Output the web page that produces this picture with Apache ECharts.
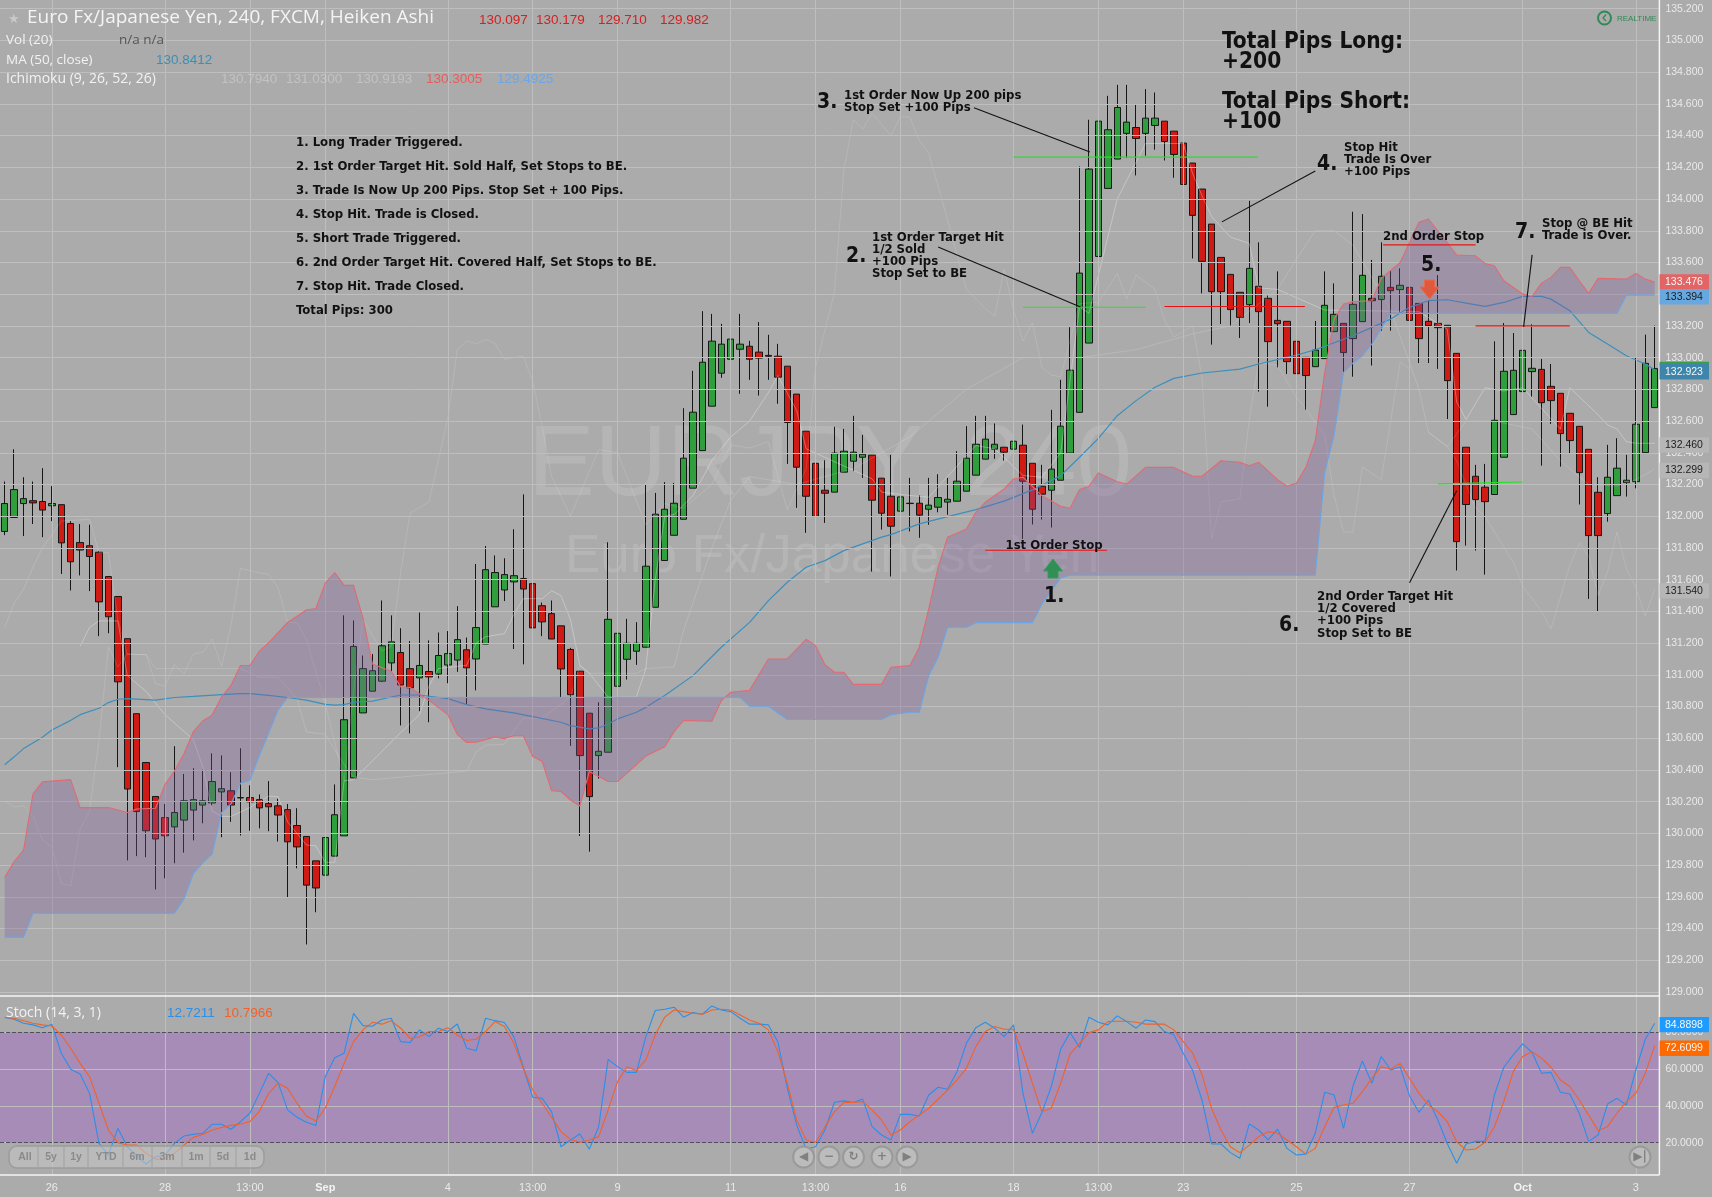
<!DOCTYPE html>
<html><head><meta charset="utf-8">
<style>html,body{margin:0;padding:0;background:#ababab;overflow:hidden}#c{width:1712px;height:1197px}</style>
<script src="https://cdn.jsdelivr.net/npm/echarts@6/dist/echarts.min.js"></script>
</head><body><div id="c"></div>
<script>
const opens=[131.904,131.992,132.080,132.098,132.093,132.066,132.073,131.954,131.834,131.814,
131.773,131.620,131.494,131.228,130.755,130.447,130.233,130.100,130.041,130.084,
130.147,130.179,130.192,130.262,130.269,130.224,130.226,130.213,130.188,130.174,
130.150,130.050,129.981,129.827,129.737,129.857,129.985,130.350,130.760,130.897,
130.960,131.075,131.141,131.039,130.981,131.021,131.005,131.062,131.093,131.158,
131.100,131.194,131.429,131.535,131.586,131.607,131.575,131.436,131.386,131.309,
131.160,131.023,130.758,130.491,130.512,130.928,131.098,131.149,131.174,131.426,
131.721,131.880,131.981,132.177,132.414,132.694,132.902,132.990,133.053,133.072,
133.035,133.014,133.009,132.946,132.770,132.536,132.334,132.164,132.152,132.278,
132.347,132.372,132.385,132.240,132.126,132.032,132.082,132.082,132.044,132.057,
132.089,132.095,132.158,132.259,132.360,132.423,132.435,132.423,132.448,132.334,
132.189,132.164,132.227,132.398,132.655,133.092,133.638,134.067,134.252,134.414,
134.451,134.414,134.464,134.491,134.428,134.353,134.227,134.063,133.842,133.632,
133.525,133.412,133.334,133.450,133.374,133.235,133.229,133.103,133.002,132.943,
132.994,133.164,133.216,133.120,133.227,133.374,133.366,133.443,133.429,133.443,
133.342,133.229,133.216,133.204,133.027,132.435,132.252,132.183,132.137,132.372,
132.641,132.786,132.912,132.926,132.819,132.775,132.649,132.567,132.422,132.151,
132.017,132.130,132.212,132.218,132.401,132.685];
const closes=[132.080,132.168,132.111,132.084,132.039,132.080,131.832,131.713,131.787,131.746,
131.460,131.366,130.956,130.280,130.138,130.017,129.965,129.985,130.132,130.206,
130.213,130.206,130.327,130.282,130.179,130.226,130.199,130.161,130.168,130.116,
129.947,129.915,129.674,129.656,129.974,130.118,130.717,131.179,131.039,131.026,
131.183,131.208,130.936,130.918,131.059,130.987,131.122,131.134,131.222,131.044,
131.298,131.663,131.645,131.632,131.625,131.541,131.296,131.334,131.226,131.037,
130.875,130.491,130.232,130.518,131.350,131.262,131.199,131.199,131.685,132.013,
132.044,132.082,132.366,132.656,132.971,133.104,133.085,133.117,133.085,132.990,
132.997,133.009,132.877,132.591,132.309,132.126,131.999,132.145,132.398,132.410,
132.404,132.391,132.101,132.019,131.937,132.122,132.080,132.007,132.070,132.118,
132.107,132.221,132.366,132.454,132.486,132.454,132.404,132.473,132.221,132.044,
132.139,132.297,132.568,132.921,133.533,134.189,134.491,134.437,134.577,134.485,
134.382,134.510,134.510,134.363,134.281,134.092,133.897,133.607,133.416,133.416,
133.303,133.254,133.563,133.290,133.101,133.214,132.975,132.899,132.887,133.048,
133.330,133.273,133.032,133.336,133.519,133.359,133.513,133.422,133.456,133.235,
133.120,133.202,133.189,132.855,131.840,132.074,132.105,132.092,132.605,132.914,
132.920,133.046,132.933,132.716,132.729,132.521,132.477,132.275,131.878,131.878,
132.246,132.303,132.227,132.580,132.964,132.931];
const lows=[131.881,131.990,131.875,131.951,131.868,131.969,131.636,131.532,131.627,131.528,
131.244,131.262,130.418,129.830,129.857,129.850,129.647,129.717,129.812,129.879,
129.956,130.064,130.177,129.976,130.073,129.987,130.017,130.032,130.014,129.949,
129.598,129.780,129.300,129.503,129.737,129.857,129.985,130.350,130.760,130.897,
130.956,131.019,130.681,130.631,130.771,130.701,130.978,130.947,131.019,130.812,
130.902,131.194,131.429,131.465,131.163,131.066,131.023,131.244,131.226,130.854,
130.552,129.984,129.885,130.346,130.512,130.928,130.970,131.063,131.174,131.426,
131.721,131.880,131.981,132.177,132.414,132.694,132.873,132.990,132.772,132.860,
132.761,132.860,132.709,132.330,132.053,131.895,131.716,131.958,132.152,132.278,
132.284,132.242,131.651,131.916,131.620,132.032,131.904,131.864,131.946,132.025,
132.009,132.095,132.158,132.259,132.360,132.362,132.351,132.423,131.857,131.948,
131.979,131.929,132.227,132.398,132.655,133.092,133.638,134.067,134.252,134.258,
134.149,134.273,134.311,134.243,134.134,133.960,133.625,133.405,133.082,133.212,
133.202,133.124,133.218,132.786,132.691,132.939,132.897,132.798,132.672,132.943,
132.994,133.164,132.897,132.880,133.227,132.950,133.170,133.170,133.286,133.013,
132.966,132.966,132.929,132.613,131.658,131.815,131.784,131.632,132.137,132.372,
132.641,132.786,132.754,132.319,132.582,132.313,132.393,132.074,131.479,131.399,
131.966,132.130,132.124,132.176,132.401,132.685];
const highs=[132.219,132.422,132.246,132.219,132.303,132.190,132.073,131.969,131.951,131.947,
131.780,131.623,131.494,131.228,130.755,130.447,130.233,130.186,130.550,130.375,
130.411,130.402,130.505,130.492,130.386,130.537,130.303,130.246,130.330,130.219,
130.186,130.159,129.983,129.827,130.107,130.309,131.375,131.343,131.122,131.131,
131.469,131.375,131.294,131.213,131.393,131.217,131.267,131.276,131.433,131.235,
131.699,131.812,131.753,131.735,131.918,132.138,131.586,131.456,131.469,131.309,
131.170,131.023,130.758,130.827,131.836,131.420,131.353,131.332,132.198,132.147,
132.215,132.210,132.681,132.917,133.293,133.276,133.213,133.356,133.276,133.106,
133.224,133.144,133.087,132.946,132.770,132.536,132.334,132.353,132.564,132.551,
132.633,132.513,132.385,132.240,132.387,132.217,132.242,132.131,132.242,132.265,
132.242,132.410,132.568,132.633,132.633,132.585,132.435,132.583,132.578,132.334,
132.324,132.671,132.860,133.192,134.206,134.500,134.928,134.651,134.720,134.720,
134.594,134.693,134.672,134.491,134.428,134.353,134.227,134.063,133.842,133.632,
133.525,133.412,133.989,133.727,133.391,133.544,133.229,133.229,133.002,133.231,
133.544,133.468,133.216,133.920,133.905,133.616,133.727,133.548,133.563,133.471,
133.342,133.359,133.521,133.204,133.027,132.435,132.324,132.330,133.103,133.218,
133.155,133.460,133.210,132.992,132.960,132.775,132.649,132.567,132.422,132.246,
132.450,132.492,132.387,133.002,133.145,133.202];

const leadA=[[0,129.724],[1,129.823],[2,129.895],[3,130.249],[4,130.325],[7,130.339],[8,130.163],[11,130.163],[13,130.132],[14,130.154],[16,130.159],[17,130.309],[18,130.393],[19,130.501],[20,130.641],[21,130.709],[22,130.746],[23,130.861],[24,130.933],[25,131.059],[26,131.059],[27,131.149],[28,131.203],[30,131.330],[32,131.409],[33,131.418],[34,131.578],[35,131.645],[36,131.564],[37,131.564],[38,131.357],[39,131.068],[41,131.023],[42,130.924],[43,130.920],[45,130.839],[47,130.749],[48,130.625],[49,130.573],[50,130.575],[52,130.609],[53,130.598],[54,130.616],[55,130.616],[56,130.485],[57,130.455],[58,130.270],[59,130.264],[60,130.211],[61,130.173],[62,130.390],[64,130.327],[65,130.327],[68,130.488],[70,130.547],[71,130.642],[72,130.713],[75,130.707],[76,130.837],[77,130.890],[79,130.903],[81,131.100],[83,131.100],[85,131.224],[86,131.184],[87,131.064],[88,131.016],[89,131.016],[90,130.940],[93,130.940],[94,131.048],[96,131.058],[97,131.174],[98,131.416],[99,131.678],[100,131.868],[102,131.920],[103,132.025],[104,132.088],[106,132.172],[107,132.235],[108,132.246],[110,132.130],[112,132.063],[113,132.050],[114,132.168],[115,132.189],[116,132.273],[118,132.218],[119,132.203],[121,132.308],[124,132.308],[126,132.252],[127,132.252],[129,132.350],[131,132.340],[132,132.319],[133,132.340],[135,132.231],[136,132.189],[137,132.210],[138,132.308],[139,132.476],[140,132.907],[141,133.243],[142,133.338],[143,133.353],[145,133.359],[146,133.500],[148,133.600],[150,133.853],[151,133.874],[153,133.726],[154,133.647],[156,133.642],[157,133.594],[158,133.579],[159,133.485],[161,133.401],[162,133.386],[163,133.470],[164,133.506],[165,133.569],[166,133.569],[167,133.485],[168,133.405],[169,133.500],[172,133.495],[173,133.531],[174,133.495],[175,133.476]];
const leadB=[[0,129.346],[2,129.346],[3,129.497],[18,129.497],[19,129.586],[20,129.746],[21,129.815],[22,129.870],[23,130.131],[24,130.186],[25,130.316],[26,130.335],[27,130.490],[29,130.780],[30,130.857],[78,130.858],[79,130.802],[81,130.802],[83,130.718],[93,130.718],[94,130.749],[96,130.764],[97,130.764],[98,130.995],[99,131.111],[100,131.300],[102,131.300],[103,131.329],[109,131.329],[110,131.447],[112,131.611],[113,131.628],[139,131.628],[140,132.277],[141,132.512],[142,132.907],[143,132.966],[144,133.012],[145,133.086],[147,133.279],[171,133.279],[172,133.394],[175,133.394]];
const ma50=[[0,130.433],[1,130.483],[2,130.535],[4,130.607],[5,130.652],[7,130.713],[8,130.749],[10,130.789],[11,130.825],[12,130.846],[13,130.850],[16,130.841],[18,130.857],[20,130.864],[23,130.875],[25,130.882],[26,130.882],[28,130.870],[30,130.857],[32,130.841],[34,130.814],[35,130.809],[36,130.812],[37,130.827],[39,130.834],[42,130.873],[44,130.873],[47,130.850],[49,130.812],[51,130.785],[54,130.760],[56,130.737],[59,130.701],[60,130.680],[62,130.659],[63,130.665],[64,130.690],[65,130.722],[67,130.764],[68,130.795],[70,130.869],[73,130.995],[76,131.174],[79,131.331],[81,131.468],[83,131.584],[85,131.678],[87,131.720],[89,131.783],[93,131.868],[94,131.884],[97,131.952],[100,131.998],[103,132.042],[106,132.095],[109,132.166],[112,132.256],[114,132.372],[116,132.491],[118,132.634],[120,132.729],[122,132.813],[124,132.869],[127,132.903],[131,132.928],[133,132.960],[137,133.016],[139,133.050],[143,133.138],[145,133.191],[147,133.243],[149,133.317],[151,133.359],[153,133.365],[155,133.344],[157,133.323],[159,133.348],[161,133.386],[163,133.386],[164,133.369],[166,133.296],[168,133.159],[170,133.086],[172,133.012],[174,132.960],[175,132.923]];
const chikou=[[0,130.204],[1,130.167],[2,130.174],[3,130.107],[4,129.960],[5,129.915],[6,129.686],[7,129.668],[8,130.028],[9,130.140],[10,130.591],[11,131.177],[12,131.050],[13,131.131],[15,131.127],[16,130.945],[17,130.929],[18,131.064],[19,131.005],[20,131.131],[21,131.143],[22,131.226],[23,131.053],[24,131.312],[25,131.672],[27,131.643],[28,131.634],[29,131.548],[30,131.330],[31,131.330],[32,131.222],[34,130.816],[36,130.333],[37,130.900],[38,131.350],[39,131.250],[40,131.150],[41,131.180],[42,131.650],[43,132.020],[45,132.090],[47,132.620],[48,133.050],[49,133.105],[50,133.086],[51,133.116],[52,133.090],[53,132.990],[55,133.010],[56,132.850],[57,132.565],[58,132.250],[60,132.000],[63,132.420],[65,132.400],[68,131.945],[70,132.080],[72,132.050],[75,132.200],[77,132.450],[79,132.430],[81,132.470],[83,132.040],[85,132.300],[86,132.940],[88,133.410],[89,134.180],[90,134.500],[91,134.440],[92,134.540],[94,134.400],[95,134.520],[96,134.515],[97,134.370],[98,134.290],[100,133.870],[102,133.430],[104,133.310],[105,133.260],[106,133.560],[107,133.300],[108,133.105],[109,133.220],[110,132.940],[111,132.890],[112,132.880],[114,133.340],[116,133.350],[118,133.530],[119,133.370],[120,133.520],[122,133.430],[123,133.240],[124,133.130],[126,133.200],[127,132.870],[128,131.860],[129,132.090],[131,132.110],[132,132.610],[133,132.970],[135,132.950],[137,132.750],[138,132.680],[140,132.510],[141,132.130],[142,131.900],[143,131.900],[144,132.310],[146,132.230],[148,132.970],[149,132.930]];
const kijun=[[0,131.300],[1,131.450],[2,131.540],[3,131.680],[4,131.800],[6,131.970],[9,131.980],[10,131.770],[11,131.770],[12,131.350],[13,131.130],[15,131.127],[16,131.040],[25,131.040],[27,130.985],[29,130.985],[31,130.850],[32,130.640],[34,130.625],[36,130.433],[37,130.355],[39,130.339],[49,130.393],[50,130.512],[51,130.557],[53,130.562],[55,130.726],[57,130.726],[60,130.861],[61,131.060],[62,131.010],[67,131.010],[68,131.040],[71,131.050],[72,131.280],[75,131.800],[77,132.100],[79,132.250],[84,132.200],[90,132.300],[96,132.500],[102,132.800],[108,133.000],[114,133.000],[120,133.050],[126,133.150],[130,133.200],[135,133.430],[137,133.620],[139,133.800],[141,133.800],[143,133.710],[147,133.300],[150,132.800],[151,132.530],[153,132.440],[155,132.600],[158,132.600],[162,132.550],[165,132.350],[168,132.200],[171,132.190],[173,132.230],[175,132.299]];
const tenkan=[[8,131.180],[9,131.300],[10,131.340],[12,131.340],[13,130.996],[15,130.895],[17,130.749],[20,130.591],[21,130.422],[22,130.140],[23,130.107],[24,130.107],[26,130.163],[28,130.235],[29,130.231],[30,130.073],[32,129.927],[33,129.922],[34,129.818],[35,129.818],[36,130.332],[37,130.339],[42,130.636],[44,130.750],[45,130.930],[46,131.040],[49,131.060],[50,131.200],[51,131.240],[53,131.260],[54,131.380],[55,131.480],[57,131.480],[58,131.530],[59,131.500],[60,131.350],[61,131.060],[62,131.010],[64,130.860],[67,130.860],[68,131.040],[69,131.600],[70,132.000],[71,132.010],[73,132.130],[75,132.350],[77,132.500],[79,132.600],[81,132.780],[82,132.887],[84,132.667],[85,132.425],[92,132.236],[93,132.152],[96,132.131],[98,132.120],[103,132.446],[105,132.425],[108,132.257],[110,132.246],[112,132.400],[114,133.320],[115,133.280],[118,134.000],[121,134.350],[125,134.350],[126,134.160],[127,134.020],[128,133.890],[130,133.760],[132,133.720],[133,133.440],[135,133.430],[140,133.300],[150,133.290],[153,133.180],[154,132.720],[155,132.610],[157,132.810],[159,132.790],[161,132.810],[165,132.550],[166,132.810],[169,132.640],[170,132.576],[171,132.550],[172,132.470],[173,132.460],[175,132.460]];
const spanTail=[[151,132.530],[153,132.440],[154,132.350],[156,132.050],[157,132.000],[158,131.900],[160,131.710],[161,131.560],[163,131.400],[164,131.290],[166,131.690],[167,131.830],[168,131.750],[169,131.500],[170,131.650],[171,131.900],[172,131.670],[173,131.550],[174,131.370],[175,131.540]];

const stochK=[88.0,87.1,84.9,84.0,82.5,84.4,68.6,59.9,57.3,46.8,
19.6,13.3,27.8,17.8,12.9,8.4,12.4,13.3,19.6,23.6,
24.5,25.1,30.0,30.0,27.3,31.4,36.0,46.8,57.7,52.6,
37.8,33.8,31.1,29.3,55.9,66.2,68.6,90.3,83.6,83.3,
86.7,87.6,74.9,74.4,81.3,77.6,82.2,80.4,84.5,71.3,
70.0,87.6,86.3,85.3,77.6,61.0,44.7,44.1,36.9,17.8,
21.5,24.7,16.4,28.7,65.3,61.3,58.2,58.2,77.6,91.8,
92.5,93.6,88.2,90.7,89.8,94.3,92.1,91.2,87.6,84.4,
84.4,84.0,74.9,49.6,29.6,16.4,17.8,26.9,42.0,42.7,
41.8,43.7,28.7,24.2,21.5,35.4,35.4,34.5,45.9,50.1,
49.0,58.6,74.0,82.5,85.4,82.2,77.6,84.0,46.8,25.1,
36.3,50.5,70.9,79.8,71.7,88.2,85.4,84.0,88.9,85.8,
82.2,86.7,85.8,80.4,78.6,68.6,59.2,42.8,19.3,19.3,
14.6,11.5,30.2,26.9,21.5,27.4,16.9,13.3,13.8,25.1,
47.4,45.9,27.8,50.8,64.4,52.3,66.8,59.5,61.3,45.4,
36.5,43.2,32.3,19.6,8.8,19.3,20.7,20.7,45.9,61.0,
67.7,73.7,69.0,57.7,58.2,47.4,46.5,36.0,20.7,24.2,
41.0,44.1,40.5,59.5,76.2,84.9];
const stochD=[88.0,87.6,86.3,84.9,84.0,83.4,78.5,71.3,63.1,55.9,
41.4,26.9,20.0,18.7,18.7,14.2,11.1,11.1,14.2,18.7,
22.9,24.5,26.9,28.3,29.4,30.2,31.4,36.9,46.8,52.3,
49.6,41.4,34.5,31.8,38.7,50.5,63.1,74.9,81.3,85.4,
84.4,86.2,82.2,76.7,77.6,80.4,80.4,82.5,78.5,75.5,
76.2,80.4,85.8,83.1,74.0,60.4,48.6,41.4,33.8,26.0,
21.8,20.2,21.5,23.3,37.8,53.2,61.3,59.2,65.0,78.6,
88.2,92.1,91.2,90.3,89.8,92.1,92.5,92.1,89.4,86.7,
84.9,81.3,69.5,52.3,32.3,21.5,20.2,28.7,36.9,41.8,
41.8,42.3,37.8,32.3,24.2,26.9,31.4,35.0,38.7,43.6,
48.6,54.1,60.4,72.2,80.4,83.1,81.6,81.6,68.6,52.3,
36.9,38.7,52.3,68.2,74.0,79.8,81.3,85.8,86.0,86.0,
85.4,84.4,84.5,84.4,81.3,74.9,68.6,56.8,38.7,26.9,
17.8,14.6,18.7,23.3,26.0,25.1,21.5,17.8,13.8,16.9,
28.7,39.2,40.5,41.4,47.7,55.0,61.3,59.9,63.1,55.0,
46.8,40.5,36.9,31.4,20.5,16.0,16.6,20.2,28.7,42.3,
58.6,66.8,69.5,65.9,61.0,54.1,50.5,43.2,35.0,26.5,
28.7,36.0,42.3,46.8,57.7,72.6];

const timeTickIdx=[5,17,26,34,47,56,65,77,86,95,107,116,125,137,149,161,173];
const timeTickLabels=['26','28','13:00','Sep','4','13:00','9','11','13:00','16','18','13:00','23','25','27','Oct','3'];
const priceTicks=[129,129.2,129.4,129.6,129.8,130,130.2,130.4,130.6,130.8,131,131.2,131.4,131.6,131.8,132,132.2,132.4,132.6,132.8,133,133.2,133.4,133.6,133.8,134,134.2,134.4,134.6,134.8,135,135.2];
const stochTicks=[20,40,60,80];
const priceLevels=[
 {c:'#28e028',s:[[107,134.264],[132.9,134.264]]},
 {c:'#28e028',s:[[108,133.318],[121,133.318]]},
 {c:'#e81414',s:[[123,133.322],[137.9,133.322]]},
 {c:'#e81414',s:[[146.2,133.711],[156,133.711]]},
 {c:'#e81414',s:[[156,133.2],[166,133.2]]},
 {c:'#28e028',s:[[152,132.204],[161,132.216]]},
 {c:'#e81414',s:[[104,131.786],[116.9,131.786]]},
 {c:'#111111',s:[[102.8,134.575],[115.1,134.297]]},
 {c:'#111111',s:[[99,133.698],[114.1,133.32]]},
 {c:'#111111',s:[[139,134.177],[129.1,133.856]]},
 {c:'#111111',s:[[162,133.648],[161.1,133.194]]},
 {c:'#111111',s:[[154,132.16],[149,131.58]]}
];
const steps=[
 '1. Long Trader Triggered.','2. 1st Order Target Hit. Sold Half, Set Stops to BE.','3. Trade Is Now Up 200 Pips. Stop Set + 100 Pips.','4. Stop Hit. Trade is Closed.','5. Short Trade Triggered.','6. 2nd Order Target Hit. Covered Half, Set Stops to BE.','7. Stop Hit. Trade Closed.','Total Pips: 300'];

const chart=echarts.init(document.getElementById('c'),null,{renderer:'canvas',width:1712,height:1197});
const LIGHT='#e9e9e9', GRID='#bebebe', PLOTW=1659.4, FILM='#ababab';
const sans='"Liberation Sans"', cond='"DejaVu Sans Condensed","DejaVu Sans"';
const off={animation:false,silent:true};
function ln(data,color,width,z,x,y){return Object.assign({type:'line',data,xAxisIndex:x===undefined?1:x,yAxisIndex:y===undefined?0:y,showSymbol:false,symbol:'none',z,lineStyle:{color,width}},off);}
function mark(lines,color,type,xIdx,yIdx,z){return Object.assign(ln([[0,null]],'transparent',0,z,xIdx,yIdx),{markLine:{silent:true,animation:false,symbol:['none','none'],label:{show:false},lineStyle:{color,width:1,type:type||'solid',opacity:1},data:lines}});}

const series=[
 mark(timeTickIdx.map(v=>({xAxis:v})),GRID,'solid',1,0,1),
 mark(priceTicks.map(v=>({yAxis:v})),GRID,'solid',1,0,1),
 mark(timeTickIdx.map(v=>({xAxis:v})),GRID,'solid',2,1,1),
 mark([40,60].map(v=>({yAxis:v})),GRID,'solid',2,1,3),
 mark([20,80].map(v=>({yAxis:v})),'#50505a','dashed',2,1,4),
 Object.assign(ln([[0,null]],'transparent',0,2,2,1),{markArea:{silent:true,animation:false,itemStyle:{color:'rgba(160,70,215,0.30)'},data:[[{yAxis:20},{yAxis:80}]]}}),
 Object.assign({type:'candlestick',xAxisIndex:0,yAxisIndex:0,z:2,barWidth:7,data:opens.map((o,i)=>[o,closes[i],lows[i],highs[i]]),
   itemStyle:{color:'#2f9e3d',color0:'#d01a14',borderColor:'#161616',borderColor0:'#161616',borderColorDoji:'#161616',borderWidth:1}},off),
 ln(chikou,'rgba(255,255,255,0.13)',1,3),
 ln(kijun,'rgba(255,255,255,0.15)',1,3),
 ln(tenkan,'rgba(255,255,255,0.30)',1,3),
 ln(spanTail,'rgba(255,255,255,0.13)',1,3),
 ln(ma50,'#3c8fbc',1.2,3),
 Object.assign({type:'custom',xAxisIndex:1,yAxisIndex:0,z:5,data:[[0,0]],
   renderItem:function(p,api){
     const pts=leadA.map(d=>api.coord(d)).concat(leadB.slice().reverse().map(d=>api.coord(d)));
     return {type:'polygon',shape:{points:pts},style:{fill:'rgba(130,90,160,0.30)',stroke:null}};
   }},off),
 ln(leadA,'#e26a72',1.1,6),
 ln(leadB,'#6ca4e4',1.1,6),
 ln(stochK.map((v,i)=>[i,v]),'#2b8fe8',1.1,6,2,1),
 ln(stochD.map((v,i)=>[i,v]),'#f0622a',1.1,7,2,1)
];
priceLevels.forEach(l=>series.push(ln(l.s,l.c,1.1,8)));

const option={
 backgroundColor:FILM,animation:false,
 grid:[{left:0,top:0,width:PLOTW,height:996},{left:0,top:996,width:PLOTW,height:179}],
 xAxis:[
  {type:'category',gridIndex:0,data:opens.map((_,i)=>String(i)),show:false,boundaryGap:true},
  {type:'value',gridIndex:0,min:-0.5,max:175.5,show:false,splitLine:{show:false}},
  {type:'value',gridIndex:1,min:-0.5,max:175.5,splitLine:{show:false},position:'bottom',
   axisLine:{show:false},axisTick:{show:false},
   axisLabel:{show:true,customValues:timeTickIdx,margin:7,showMinLabel:true,showMaxLabel:true,
     formatter:function(v){const k=timeTickIdx.indexOf(v);const s=timeTickLabels[k]||'';return (s==='Sep'||s==='Oct')?'{b|'+s+'}':s;},
     color:LIGHT,fontFamily:sans,fontSize:11,rich:{b:{fontWeight:'bold',color:'#f4f4f4',fontFamily:sans,fontSize:11}}}}
 ],
 yAxis:[
  {type:'value',gridIndex:0,position:'right',min:128.975,max:135.255,splitLine:{show:false},
   axisLine:{show:false},axisTick:{show:true,length:4,customValues:priceTicks,lineStyle:{color:'#f2f2f2'}},
   axisLabel:{customValues:priceTicks,margin:6,color:LIGHT,fontFamily:sans,fontSize:10.5,formatter:v=>v.toFixed(3)}},
  {type:'value',gridIndex:1,position:'right',min:2.45,max:99.7,splitLine:{show:false},
   axisLine:{show:false},axisTick:{show:true,length:4,customValues:stochTicks,lineStyle:{color:'#f2f2f2'}},
   axisLabel:{customValues:stochTicks,margin:6,color:LIGHT,fontFamily:sans,fontSize:10.5,formatter:v=>v.toFixed(4)}}
 ],
 series:series
};
chart.setOption(option);

function t(x,y,text,font,fill,extra){return Object.assign({type:'text',x,y,silent:true,z:50,style:{text,font,fill,textVerticalAlign:'middle'}},extra||{});}
const ab='bold 13px '+cond, big='bold 21px '+cond, head='bold 22.5px '+cond;
const g=[];
g.push({type:'text',x:528,y:467,silent:true,z:0,style:{text:'EURJPY, 240',font:'100px '+sans,fill:'rgba(255,255,255,0.13)',textVerticalAlign:'middle'}});
g.push({type:'text',x:565,y:557,silent:true,z:0,style:{text:'Euro Fx/Japanese Yen',font:'53px '+sans,fill:'rgba(255,255,255,0.13)',textVerticalAlign:'middle'}});
[[0,996,PLOTW,996],[0,1175,PLOTW,1175],[PLOTW,0,PLOTW,1175]].forEach(a=>g.push({type:'line',silent:true,z:40,shape:{x1:a[0],y1:a[1],x2:a[2],y2:a[3]},style:{stroke:'#f4f4f4',lineWidth:1.5}}));
g.push(t(8,20,'★','13px "DejaVu Sans"','#c9c9c9'));
g.push(t(27,18,'Euro Fx/Japanese Yen, 240, FXCM, Heiken Ashi','19px "Open Sans"','#f4f4f4'));
[[479,'130.097'],[536,'130.179'],[598,'129.710'],[660,'129.982']].forEach(a=>g.push(t(a[0],20,a[1],'13.5px '+sans,'#d81e1e')));
g.push(t(6,40,'Vol (20)','13.5px "Open Sans"','#f2f2f2'));
g.push(t(119,40,'n/a n/a','13.5px "Open Sans"','#555'));
g.push(t(6,60,'MA (50, close)','13.5px "Open Sans"','#f2f2f2'));
g.push(t(156,60,'130.8412','13.5px '+sans,'#3a8fb7'));
g.push(t(6,79,'Ichimoku (9, 26, 52, 26)','14px "Open Sans"','#f2f2f2'));
[[221,'130.7940','rgba(255,255,255,0.28)'],[286,'131.0300','rgba(255,255,255,0.28)'],[356,'130.9193','rgba(255,255,255,0.28)'],[426,'130.3005','#e85c5c'],[497,'129.4925','#6aa6e8']].forEach(a=>g.push(t(a[0],79,a[1],'13.5px '+sans,a[2])));
g.push(t(6,1013,'Stoch (14, 3, 1)','14px "Open Sans"','#f2f2f2'));
g.push(t(167,1013,'12.7211','13.5px '+sans,'#2b8fe8'));
g.push(t(224,1013,'10.7966','13.5px '+sans,'#f0622a'));
g.push({type:'circle',silent:true,z:30,shape:{cx:1604.5,cy:18,r:6.5},style:{fill:'none',stroke:'#2f8a55',lineWidth:2}});
g.push({type:'polyline',silent:true,z:30,shape:{points:[[1606,14.5],[1603,18],[1606,21]]},style:{fill:'none',stroke:'#2f8a55',lineWidth:1.2}});
g.push(t(1617,19,'REALTIME','8px '+sans,'#2f8a55'));
steps.forEach((s,i)=>g.push(t(296,143+24*i,s,ab,'#111')));
[[42,'Total Pips Long:'],[62,'+200'],[102,'Total Pips Short:'],[122,'+100']].forEach(a=>g.push(t(1222,a[0],a[1],head,'#111')));
[[817,103,'3.'],[846,257,'2.'],[1317,165,'4.'],[1421,266,'5.'],[1515,233,'7.'],[1279,626,'6.'],[1044,597,'1.']].forEach(a=>g.push(t(a[0],a[1],a[2],big,'#111')));
[[844,96,'1st Order Now Up 200 pips'],[844,108,'Stop Set +100 Pips'],
 [872,238,'1st Order Target Hit'],[872,250,'1/2 Sold'],[872,262,'+100 Pips'],[872,274,'Stop Set to BE'],
 [1344,148,'Stop Hit'],[1344,160,'Trade Is Over'],[1344,172,'+100 Pips'],
 [1383,237,'2nd Order Stop'],[1005.5,546,'1st Order Stop'],
 [1542,224,'Stop @ BE Hit'],[1542,236,'Trade is Over.'],
 [1317,597,'2nd Order Target Hit'],[1317,609,'1/2 Covered'],[1317,621,'+100 Pips'],[1317,634,'Stop Set to BE']
].forEach(a=>g.push(t(a[0],a[1],a[2],ab,'#111')));
g.push({type:'polygon',silent:true,z:45,shape:{points:[[1053,559],[1062.5,571],[1058,571],[1058,578],[1048,578],[1048,571],[1043.5,571]]},style:{fill:'#2f8f55',stroke:'#3b9a62',lineWidth:1}});
g.push({type:'polygon',silent:true,z:45,shape:{points:[[1429.5,299],[1439,287],[1434.5,287],[1434.5,280],[1424.5,280],[1424.5,287],[1420,287]]},style:{fill:'#e0593c',stroke:'#e66a4e',lineWidth:1}});
g.push({type:'rect',silent:true,z:30,shape:{x:9,y:1146,width:255,height:22,r:8},style:{fill:'rgba(196,196,196,0.6)',stroke:'#9c9c9c',lineWidth:1.5}});
const rangeLabels=['All','5y','1y','YTD','6m','3m','1m','5d','1d'], rangeX=[25,51,76,106,137,167,196,223,250], rangeSep=[38,64,88,123,152,182,210,236];
rangeSep.forEach(x=>g.push({type:'line',silent:true,z:31,shape:{x1:x,y1:1147,x2:x,y2:1167},style:{stroke:'#a0a0a0',lineWidth:1}}));
rangeLabels.forEach((s,i)=>g.push({type:'text',x:rangeX[i],y:1157,silent:true,z:32,style:{text:s,font:'bold 10.5px '+sans,fill:'#8a8a8a',textAlign:'center',textVerticalAlign:'middle'}}));
[[803.6,'◀'],[829,'−'],[853.5,'↻'],[882,'+'],[907,'▶'],[1640,'▶|']].forEach(a=>{
 g.push({type:'circle',silent:true,z:30,shape:{cx:a[0],cy:1157,r:10.5},style:{fill:'#bcbcbc',stroke:'#9a9a9a',lineWidth:2}});
 g.push({type:'text',x:a[0],y:1157,silent:true,z:31,style:{text:a[1],font:'bold 12px "DejaVu Sans"',fill:'#808080',textAlign:'center',textVerticalAlign:'middle'}});
});
function py(v){return chart.convertToPixel({yAxisIndex:0},v);}
function sy(v){return chart.convertToPixel({yAxisIndex:1},v);}
function tag(y,text,bg,fg){g.push({type:'rect',silent:true,z:41,shape:{x:1659.5,y:y-7.7,width:49.5,height:15.4},style:{fill:bg}});g.push(t(1665,y,text,'10.5px '+sans,fg,{z:42}));}
tag(py(132.46)+1.7,'132.460','#b6b6b6','#1d1d1d');
tag(py(132.299)+1.7,'132.299','#b6b6b6','#1d1d1d');
tag(py(131.54)+1.7,'131.540','#b6b6b6','#1d1d1d');
tag(py(133.476)-0.2,'133.476','#e26464','#f6f6f6');
tag(py(133.394)+1.7,'133.394','#68a8e0','#1b1b1b');
g.push({type:'rect',silent:true,z:41,shape:{x:1659.5,y:361.7,width:49.5,height:3},style:{fill:'#3a9e45'}});
tag(py(132.923)+1.9,'132.923','#3d85ab','#f6f6f6');
tag(sy(84.8898)+1.4,'84.8898','#1e9bff','#f6f6f6');
tag(sy(72.6099)+2.4,'72.6099','#ff6a00','#f6f6f6');
chart.setOption({graphic:{elements:g}});
</script></body></html>
